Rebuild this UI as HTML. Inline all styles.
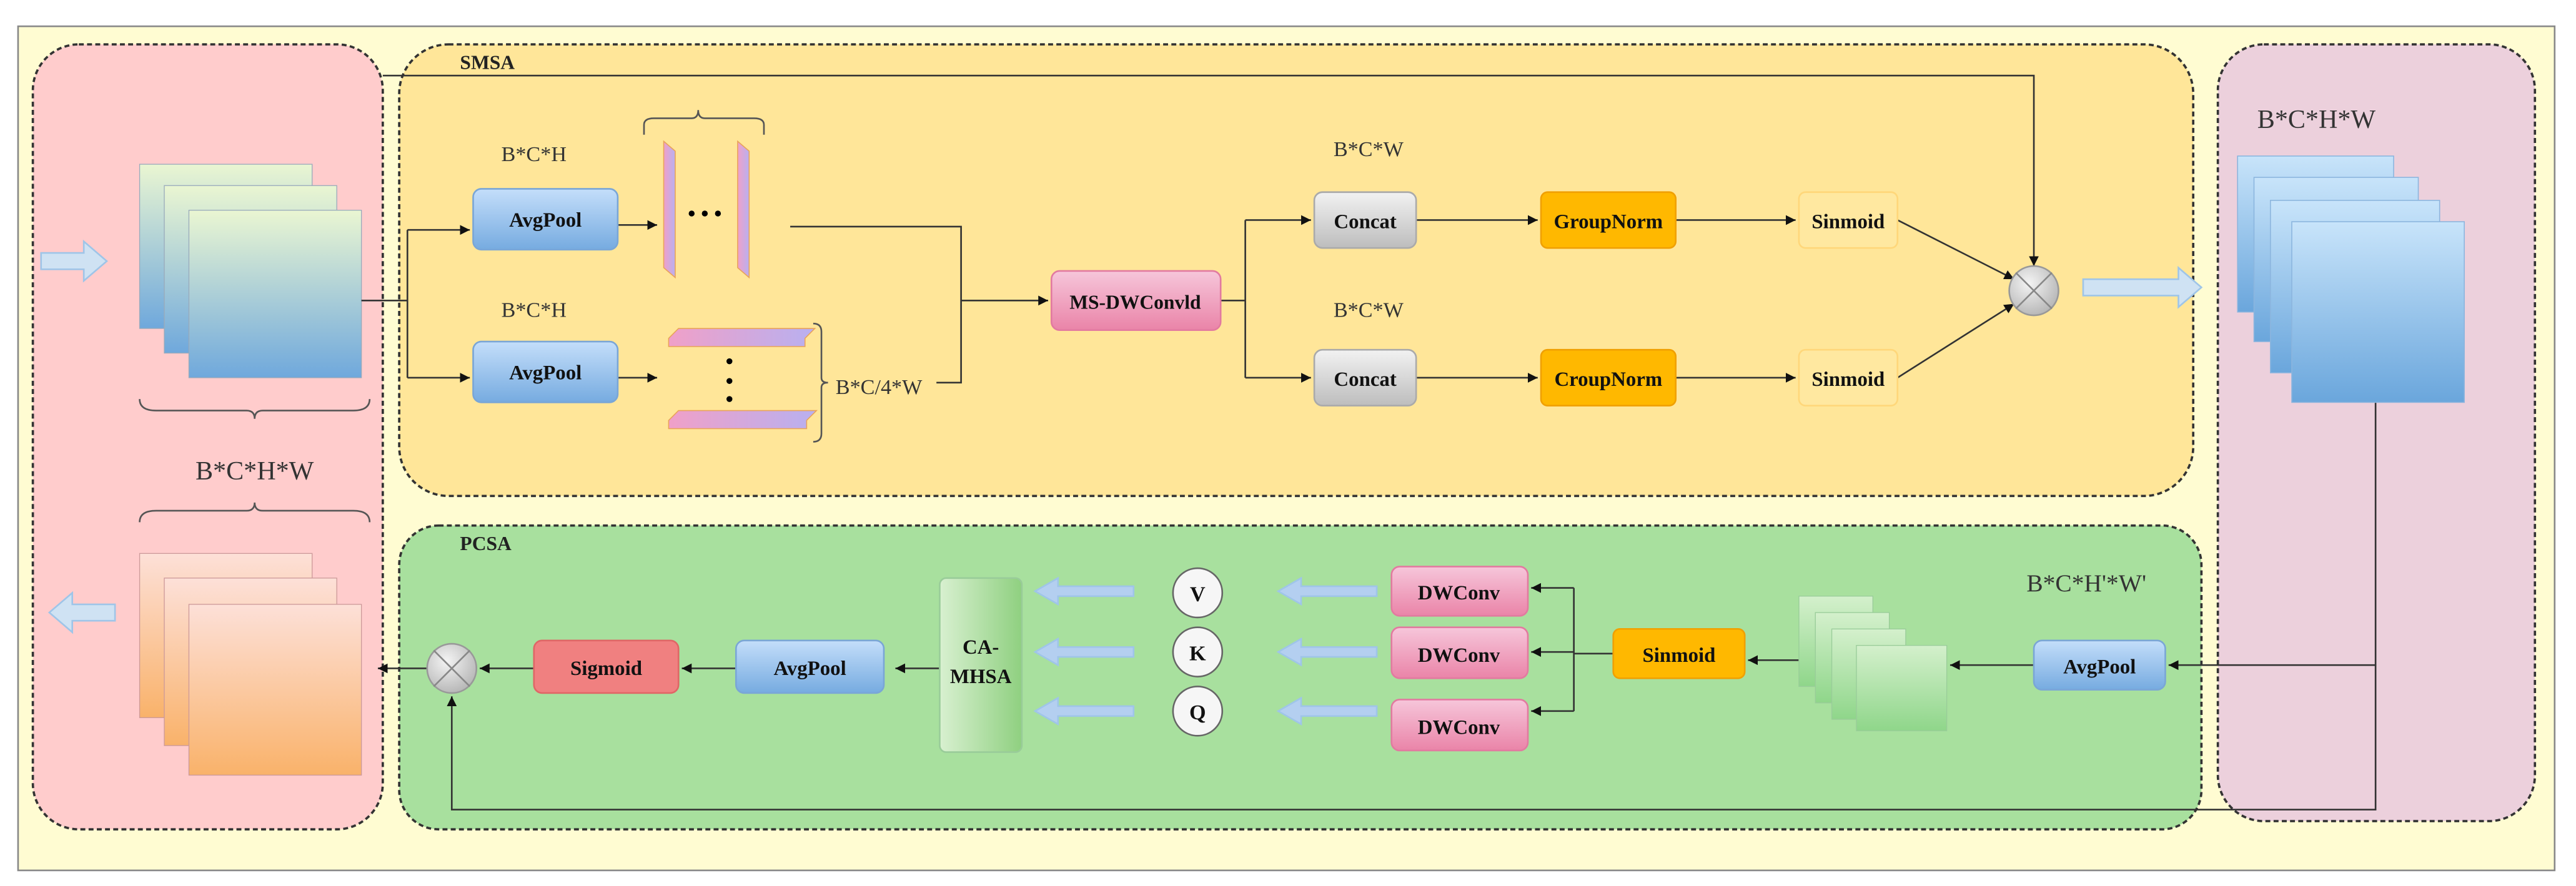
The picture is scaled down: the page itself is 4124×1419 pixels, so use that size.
<!DOCTYPE html>
<html><head><meta charset="utf-8"><style>
html,body{margin:0;padding:0;background:#fff;}
svg{display:block;}
text{font-family:"Liberation Serif",serif;}
.b{font-weight:bold;font-size:12.5px;text-anchor:middle;fill:#111;}
.l{font-size:13px;fill:#333;text-anchor:middle;}
</style></head><body>
<svg width="4124" height="1419" viewBox="0 0 1568 539.5" xmlns="http://www.w3.org/2000/svg">
<defs>
<linearGradient id="gb" x1="0" y1="0" x2="0" y2="1"><stop offset="0" stop-color="#eaf6d2"/><stop offset="1" stop-color="#6fa8dc"/></linearGradient>
<linearGradient id="go" x1="0" y1="0" x2="0" y2="1"><stop offset="0" stop-color="#fde0d8"/><stop offset="1" stop-color="#f9b26a"/></linearGradient>
<linearGradient id="gr" x1="0" y1="0" x2="0" y2="1"><stop offset="0" stop-color="#c8e4fa"/><stop offset="1" stop-color="#6aa6dc"/></linearGradient>
<linearGradient id="gg" x1="0" y1="0" x2="0" y2="1"><stop offset="0" stop-color="#d4f0cc"/><stop offset="1" stop-color="#8fd68a"/></linearGradient>
<linearGradient id="bbox" x1="0" y1="0" x2="0" y2="1"><stop offset="0" stop-color="#c4defa"/><stop offset="1" stop-color="#76abe0"/></linearGradient>
<linearGradient id="pbox" x1="0" y1="0" x2="0" y2="1"><stop offset="0" stop-color="#f6c6da"/><stop offset="1" stop-color="#ea84a8"/></linearGradient>
<linearGradient id="gray" x1="0" y1="0" x2="0" y2="1"><stop offset="0" stop-color="#f2f2f2"/><stop offset="1" stop-color="#bdbdbd"/></linearGradient>
<linearGradient id="cam" x1="0" y1="0" x2="1" y2="0"><stop offset="0" stop-color="#d8f0d0"/><stop offset="1" stop-color="#8fd080"/></linearGradient>
<linearGradient id="plate" x1="0" y1="0" x2="1" y2="0"><stop offset="0" stop-color="#f0a0c8"/><stop offset="1" stop-color="#b8b0f0"/></linearGradient>
<radialGradient id="circ" cx="0.4" cy="0.35" r="0.7"><stop offset="0" stop-color="#f4f4f4"/><stop offset="1" stop-color="#b4b4b4"/></radialGradient>
<marker id="a" markerWidth="8" markerHeight="8" refX="6" refY="3" orient="auto" markerUnits="userSpaceOnUse"><path d="M0,0 L6,3 L0,6 z" fill="#111"/></marker>
</defs>
<rect x="11" y="16" width="1544" height="514" fill="#fffcd2" stroke="#888" stroke-width="1"/>
<rect x="20" y="27" width="213" height="478" rx="28" fill="#ffcccc" stroke="#333" stroke-width="1.4" stroke-dasharray="3,2"/>
<rect x="243" y="27" width="1092" height="275" rx="30" fill="#ffe699" stroke="#333" stroke-width="1.4" stroke-dasharray="3,2"/>
<rect x="1350" y="27" width="193" height="473" rx="28" fill="#ecd0dc" stroke="#333" stroke-width="1.4" stroke-dasharray="3,2"/>
<rect x="243" y="320" width="1097" height="185" rx="24" fill="#a8e09e" stroke="#333" stroke-width="1.4" stroke-dasharray="3,2"/>
<text x="280" y="42" style="font-weight:bold;font-size:12px" fill="#222">SMSA</text>
<text x="280" y="335" style="font-weight:bold;font-size:12px" fill="#222">PCSA</text>
<!-- left top stack -->
<g stroke="#9ab" stroke-width="0.5">
<rect x="85" y="100" width="105" height="100" fill="url(#gb)"/>
<rect x="100" y="113" width="105" height="102" fill="url(#gb)"/>
<rect x="115" y="128" width="105" height="102" fill="url(#gb)"/>
</g>
<path d="M85,243 q0,7 10,7 h55 q5,0 5,5 q0,-5 5,-5 h55 q10,0 10,-7" fill="none" stroke="#555" stroke-width="1"/>
<text x="155" y="292" class="l" style="font-size:16px">B*C*H*W</text>
<path d="M85,318 q0,-7 10,-7 h55 q5,0 5,-5 q0,5 5,5 h55 q10,0 10,7" fill="none" stroke="#555" stroke-width="1"/>
<g stroke="#c99" stroke-width="0.5">
<rect x="85" y="337" width="105" height="100" fill="url(#go)"/>
<rect x="100" y="352" width="105" height="102" fill="url(#go)"/>
<rect x="115" y="368" width="105" height="104" fill="url(#go)"/>
</g>
<path d="M25,154 h26 v-7 l14,12 l-14,12 v-7 h-26z" fill="#cfe2f3" stroke="#9fc5e8"/>
<path d="M70,368 h-26 v-7 l-14,12 l14,12 v-7 h26z" fill="#cfe2f3" stroke="#9fc5e8"/>
<path d="M1268,170 h58 v-7 l14,12 l-14,12 v-7 h-58z" fill="#cfe2f3" stroke="#9fc5e8"/>
<path d="M233,46 H1238 V162" fill="none" stroke="#333" stroke-width="1" marker-end="url(#a)"/>
<g fill="none" stroke="#333" stroke-width="1">
<path d="M220,183 H248"/><path d="M248,140 V230"/>
<path d="M248,140 H286" marker-end="url(#a)"/><path d="M248,230 H286" marker-end="url(#a)"/>
<path d="M376,137 H400" marker-end="url(#a)"/><path d="M376,230 H400" marker-end="url(#a)"/>
<path d="M481,138 H585 V233 H570"/><path d="M585,183 H638" marker-end="url(#a)"/>
<path d="M743,183 H758"/><path d="M758,134 V230"/>
<path d="M758,134 H798" marker-end="url(#a)"/><path d="M758,230 H798" marker-end="url(#a)"/>
<path d="M862,134 H936" marker-end="url(#a)"/><path d="M862,230 H936" marker-end="url(#a)"/>
<path d="M1020,134 H1093" marker-end="url(#a)"/><path d="M1020,230 H1093" marker-end="url(#a)"/>
<path d="M1155,134 L1226,170" marker-end="url(#a)"/><path d="M1155,230 L1226,185" marker-end="url(#a)"/>
<path d="M1446,245 V493 H275 V424" marker-end="url(#a)"/>
<path d="M1446,405 H1320" marker-end="url(#a)"/>
<path d="M1238,405 H1187" marker-end="url(#a)"/>
<path d="M1095,402 H1064" marker-end="url(#a)"/>
<path d="M982,398 H958"/><path d="M958,358 V433"/>
<path d="M958,358 H932" marker-end="url(#a)"/><path d="M958,397 H932" marker-end="url(#a)"/><path d="M958,433 H932" marker-end="url(#a)"/>
<path d="M572,407 H545" marker-end="url(#a)"/>
<path d="M448,407 H415" marker-end="url(#a)"/>
<path d="M325,407 H292" marker-end="url(#a)"/>
<path d="M260,407 H230" marker-end="url(#a)"/>
</g>
<rect x="288" y="115" width="88" height="37" rx="5" fill="url(#bbox)" stroke="#7aa6d6"/>
<text x="332" y="138" class="b">AvgPool</text>
<rect x="288" y="208" width="88" height="37" rx="5" fill="url(#bbox)" stroke="#7aa6d6"/>
<text x="332" y="231" class="b">AvgPool</text>
<text x="325" y="98" class="l">B*C*H</text>
<text x="325" y="193" class="l">B*C*H</text>
<path d="M404,86 l7,6 v77 l-7,-6z" fill="url(#plate)" stroke="#e9a35a" stroke-width="0.6"/>
<path d="M449,86 l7,6 v77 l-7,-6z" fill="url(#plate)" stroke="#e9a35a" stroke-width="0.6"/>
<circle cx="421" cy="130" r="1.8"/><circle cx="429" cy="130" r="1.8"/><circle cx="437" cy="130" r="1.8"/>
<path d="M392,82 v-6 q0,-4 6,-4 h23 q4,0 4,-5 q0,5 4,5 h30 q6,0 6,4 v6" fill="none" stroke="#555"/>
<path d="M407,206 l6,-6 h83 l-6,6 v5 h-83z" fill="url(#plate)" stroke="#e9a35a" stroke-width="0.6"/>
<path d="M407,256 l6,-6 h84 l-6,6 v5 h-84z" fill="url(#plate)" stroke="#e9a35a" stroke-width="0.6"/>
<circle cx="444" cy="220" r="1.8"/><circle cx="444" cy="232" r="1.8"/><circle cx="444" cy="243" r="1.8"/>
<path d="M495,197 q5,0 5,5 v28 q0,3 4,3 q-4,0 -4,3 v28 q0,5 -5,5" fill="none" stroke="#555"/>
<text x="535" y="240" class="l">B*C/4*W</text>
<rect x="640" y="165" width="103" height="36" rx="5" fill="url(#pbox)" stroke="#e27aa0"/>
<text x="691" y="188" class="b" style="font-size:12px">MS-DWConvld</text>
<text x="833" y="95" class="l">B*C*W</text>
<text x="833" y="193" class="l">B*C*W</text>
<rect x="800" y="117" width="62" height="34" rx="5" fill="url(#gray)" stroke="#aaa"/>
<text x="831" y="139" class="b">Concat</text>
<rect x="800" y="213" width="62" height="34" rx="5" fill="url(#gray)" stroke="#aaa"/>
<text x="831" y="235" class="b">Concat</text>
<rect x="938" y="117" width="82" height="34" rx="4" fill="#ffb800" stroke="#f0a000"/>
<text x="979" y="139" class="b">GroupNorm</text>
<rect x="938" y="213" width="82" height="34" rx="4" fill="#ffb800" stroke="#f0a000"/>
<text x="979" y="235" class="b">CroupNorm</text>
<rect x="1095" y="117" width="60" height="34" rx="4" fill="#ffe8a0" stroke="#ffd77a"/>
<text x="1125" y="139" class="b">Sinmoid</text>
<rect x="1095" y="213" width="60" height="34" rx="4" fill="#ffe8a0" stroke="#ffd77a"/>
<text x="1125" y="235" class="b">Sinmoid</text>
<circle cx="1238" cy="177" r="15" fill="url(#circ)" stroke="#999"/>
<path d="M1227,166 L1249,188 M1249,166 L1227,188" stroke="#888"/>
<text x="1410" y="78" class="l" style="font-size:16px">B*C*H*W</text>
<g stroke="#8bb5de" stroke-width="0.6">
<rect x="1362" y="95" width="95" height="95" fill="url(#gr)"/>
<rect x="1372" y="108" width="100" height="100" fill="url(#gr)"/>
<rect x="1382" y="122" width="103" height="105" fill="url(#gr)"/>
<rect x="1395" y="135" width="105" height="110" fill="url(#gr)"/>
</g>
<text x="1270" y="360" class="l" style="font-size:15px">B*C*H'*W'</text>
<rect x="1238" y="390" width="80" height="30" rx="5" fill="url(#bbox)" stroke="#7aa6d6"/>
<text x="1278" y="410" class="b">AvgPool</text>
<g stroke="#9c9" stroke-width="0.5">
<rect x="1095" y="363" width="45" height="55" fill="url(#gg)"/>
<rect x="1105" y="373" width="45" height="55" fill="url(#gg)"/>
<rect x="1115" y="383" width="45" height="55" fill="url(#gg)"/>
<rect x="1130" y="393" width="55" height="52" fill="url(#gg)"/>
</g>
<rect x="982" y="383" width="80" height="30" rx="4" fill="#ffb800" stroke="#f0a000"/>
<text x="1022" y="403" class="b">Sinmoid</text>
<rect x="847" y="345" width="83" height="30" rx="5" fill="url(#pbox)" stroke="#e27aa0"/>
<text x="888" y="365" class="b">DWConv</text>
<rect x="847" y="382" width="83" height="31" rx="5" fill="url(#pbox)" stroke="#e27aa0"/>
<text x="888" y="403" class="b">DWConv</text>
<rect x="847" y="426" width="83" height="31" rx="5" fill="url(#pbox)" stroke="#e27aa0"/>
<text x="888" y="447" class="b">DWConv</text>
<g fill="#b4cff0" stroke="#9fc5e8">
<path d="M838,357 h-46 v-5 l-14,8 l14,8 v-5 h46z"/>
<path d="M838,394 h-46 v-5 l-14,8 l14,8 v-5 h46z"/>
<path d="M838,430 h-46 v-5 l-14,8 l14,8 v-5 h46z"/>
<path d="M690,357 h-46 v-5 l-14,8 l14,8 v-5 h46z"/>
<path d="M690,394 h-46 v-5 l-14,8 l14,8 v-5 h46z"/>
<path d="M690,430 h-46 v-5 l-14,8 l14,8 v-5 h46z"/>
</g>
<g fill="#f6f6f6" stroke="#666">
<circle cx="729" cy="361" r="15"/><circle cx="729" cy="397" r="15"/><circle cx="729" cy="433" r="15"/>
</g>
<text x="729" y="366" class="b" style="font-size:13px">V</text>
<text x="729" y="402" class="b" style="font-size:13px">K</text>
<text x="729" y="438" class="b" style="font-size:13px">Q</text>
<rect x="572" y="352" width="50" height="106" rx="4" fill="url(#cam)" stroke="#9c9"/>
<text x="597" y="398" class="b">CA-</text>
<text x="597" y="416" class="b">MHSA</text>
<rect x="448" y="390" width="90" height="32" rx="5" fill="url(#bbox)" stroke="#7aa6d6"/>
<text x="493" y="411" class="b">AvgPool</text>
<rect x="325" y="390" width="88" height="32" rx="5" fill="#f08080" stroke="#e06666"/>
<text x="369" y="411" class="b">Sigmoid</text>
<circle cx="275" cy="407" r="15" fill="url(#circ)" stroke="#999"/>
<path d="M264,396 L286,418 M286,396 L264,418" stroke="#888"/>
</svg>
</body></html>
